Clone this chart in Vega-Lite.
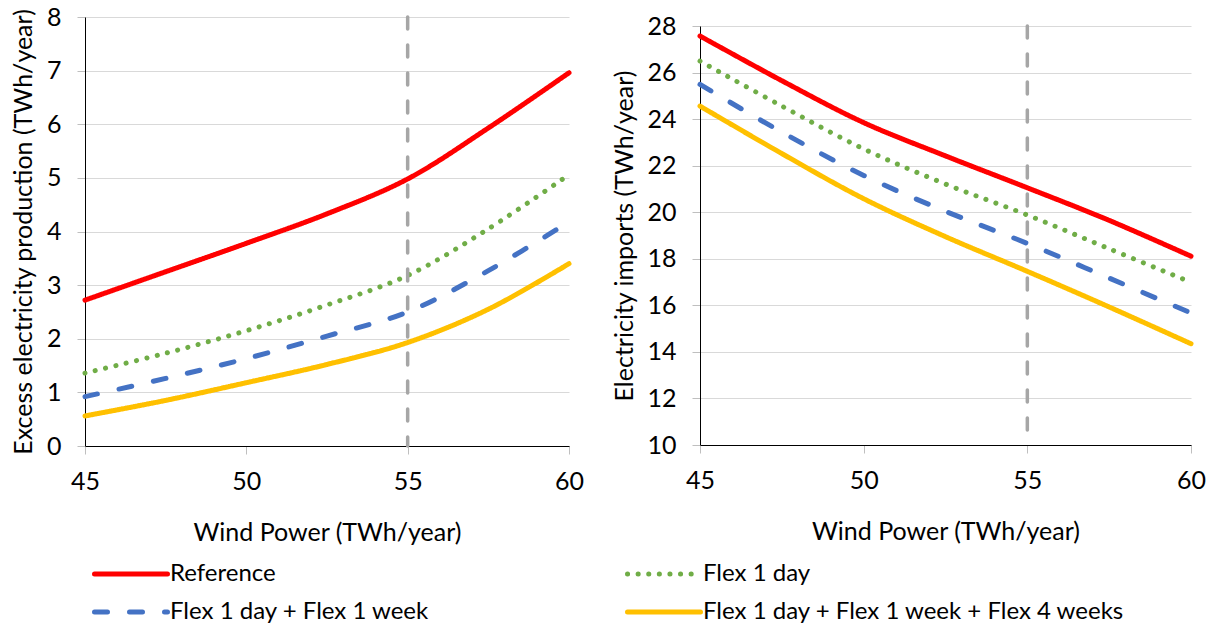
{
  "$schema": "https://vega.github.io/schema/vega-lite/v6.json",
  "padding": {"left": 11, "top": 5, "right": 5, "bottom": 5},
  "background": "white",
  "datasets": {
    "excess": [
      {"wind": 45, "series": "Reference", "value": 2.72},
      {"wind": 47.5, "series": "Reference", "value": 3.25},
      {"wind": 50, "series": "Reference", "value": 3.78},
      {"wind": 52.5, "series": "Reference", "value": 4.33},
      {"wind": 55, "series": "Reference", "value": 4.98},
      {"wind": 57.5, "series": "Reference", "value": 5.93},
      {"wind": 60, "series": "Reference", "value": 6.96},
      {"wind": 45, "series": "Flex 1 day", "value": 1.36},
      {"wind": 47.5, "series": "Flex 1 day", "value": 1.73},
      {"wind": 50, "series": "Flex 1 day", "value": 2.15},
      {"wind": 52.5, "series": "Flex 1 day", "value": 2.63},
      {"wind": 55, "series": "Flex 1 day", "value": 3.18},
      {"wind": 57.5, "series": "Flex 1 day", "value": 4.05},
      {"wind": 60, "series": "Flex 1 day", "value": 5.06},
      {"wind": 45, "series": "Flex 1 day + Flex 1 week", "value": 0.92},
      {"wind": 47.5, "series": "Flex 1 day + Flex 1 week", "value": 1.26},
      {"wind": 50, "series": "Flex 1 day + Flex 1 week", "value": 1.63},
      {"wind": 52.5, "series": "Flex 1 day + Flex 1 week", "value": 2.05},
      {"wind": 55, "series": "Flex 1 day + Flex 1 week", "value": 2.5},
      {"wind": 57.5, "series": "Flex 1 day + Flex 1 week", "value": 3.27},
      {"wind": 60, "series": "Flex 1 day + Flex 1 week", "value": 4.18},
      {"wind": 45, "series": "Flex 1 day + Flex 1 week + Flex 4 weeks", "value": 0.56},
      {"wind": 47.5, "series": "Flex 1 day + Flex 1 week + Flex 4 weeks", "value": 0.85},
      {"wind": 50, "series": "Flex 1 day + Flex 1 week + Flex 4 weeks", "value": 1.18},
      {"wind": 52.5, "series": "Flex 1 day + Flex 1 week + Flex 4 weeks", "value": 1.52},
      {"wind": 55, "series": "Flex 1 day + Flex 1 week + Flex 4 weeks", "value": 1.93},
      {"wind": 57.5, "series": "Flex 1 day + Flex 1 week + Flex 4 weeks", "value": 2.55},
      {"wind": 60, "series": "Flex 1 day + Flex 1 week + Flex 4 weeks", "value": 3.4}
    ],
    "imports": [
      {"wind": 45, "series": "Reference", "value": 27.57},
      {"wind": 47.5, "series": "Reference", "value": 25.65},
      {"wind": 50, "series": "Reference", "value": 23.85},
      {"wind": 52.5, "series": "Reference", "value": 22.42},
      {"wind": 55, "series": "Reference", "value": 21.05},
      {"wind": 57.5, "series": "Reference", "value": 19.65},
      {"wind": 60, "series": "Reference", "value": 18.11},
      {"wind": 45, "series": "Flex 1 day", "value": 26.49},
      {"wind": 47.5, "series": "Flex 1 day", "value": 24.56},
      {"wind": 50, "series": "Flex 1 day", "value": 22.72},
      {"wind": 52.5, "series": "Flex 1 day", "value": 21.21},
      {"wind": 55, "series": "Flex 1 day", "value": 19.88},
      {"wind": 57.5, "series": "Flex 1 day", "value": 18.43},
      {"wind": 60, "series": "Flex 1 day", "value": 16.99},
      {"wind": 45, "series": "Flex 1 day + Flex 1 week", "value": 25.49},
      {"wind": 47.5, "series": "Flex 1 day + Flex 1 week", "value": 23.44},
      {"wind": 50, "series": "Flex 1 day + Flex 1 week", "value": 21.58},
      {"wind": 52.5, "series": "Flex 1 day + Flex 1 week", "value": 20.04},
      {"wind": 55, "series": "Flex 1 day + Flex 1 week", "value": 18.66},
      {"wind": 57.5, "series": "Flex 1 day + Flex 1 week", "value": 17.17},
      {"wind": 60, "series": "Flex 1 day + Flex 1 week", "value": 15.67},
      {"wind": 45, "series": "Flex 1 day + Flex 1 week + Flex 4 weeks", "value": 24.56},
      {"wind": 47.5, "series": "Flex 1 day + Flex 1 week + Flex 4 weeks", "value": 22.52},
      {"wind": 50, "series": "Flex 1 day + Flex 1 week + Flex 4 weeks", "value": 20.58},
      {"wind": 52.5, "series": "Flex 1 day + Flex 1 week + Flex 4 weeks", "value": 18.95},
      {"wind": 55, "series": "Flex 1 day + Flex 1 week + Flex 4 weeks", "value": 17.46},
      {"wind": 57.5, "series": "Flex 1 day + Flex 1 week + Flex 4 weeks", "value": 15.93},
      {"wind": 60, "series": "Flex 1 day + Flex 1 week + Flex 4 weeks", "value": 14.35}
    ],
    "marker": [{"wind": 55}],
    "empty": []
  },
  "spacing": 28,
  "hconcat": [
    {
      "width": 484,
      "height": 429,
      "layer": [
        {
          "data": {"name": "excess"},
          "mark": {"type": "line", "strokeWidth": 5, "strokeCap": "round", "interpolate": "catmull-rom"},
          "encoding": {
            "x": {"field": "wind", "type": "quantitative", "scale": {"domain": [45, 60], "nice": false, "zero": false}, "axis": {"values": [45, 50, 55, 60], "title": "Wind Power (TWh/year)"}},
            "y": {"field": "value", "type": "quantitative", "scale": {"domain": [0, 8], "nice": false}, "axis": {"values": [0, 1, 2, 3, 4, 5, 6, 7, 8], "title": "Excess electricity production (TWh/year)", "titlePadding": 10}},
            "color": {"field": "series", "type": "nominal", "sort": null, "scale": {"domain": ["Reference", "Flex 1 day + Flex 1 week", "Flex 1 day", "Flex 1 day + Flex 1 week + Flex 4 weeks"], "range": ["#FF0000", "#4472C4", "#70AD47", "#FFC000"]}, "legend": {"title": null, "encode": {"symbols": {"update": {"strokeCap": {"value": "round"}}}}}},
            "strokeDash": {"field": "series", "type": "nominal", "sort": null, "scale": {"domain": ["Reference", "Flex 1 day + Flex 1 week", "Flex 1 day", "Flex 1 day + Flex 1 week + Flex 4 weeks"], "range": [[1, 0], [13, 22], [0.1, 10.5], [1, 0]]}, "legend": {"title": null, "encode": {"symbols": {"update": {"strokeCap": {"value": "round"}}}}}}
          }
        },
        {
          "data": {"name": "marker"},
          "mark": {"type": "rule", "color": "#A6A6A6", "strokeWidth": 3.5, "strokeDash": [12, 16], "strokeCap": "round"},
          "encoding": {"x": {"field": "wind", "type": "quantitative"}}
        }
      ]
    },
    {
      "bounds": "flush",
      "spacing": 8,
      "vconcat": [
        {
          "width": 491,
          "height": 1,
          "data": {"name": "empty"},
          "mark": "point"
        },
        {
          "width": 491,
          "height": 419,
          "layer": [
            {
              "data": {"name": "imports"},
              "mark": {"type": "line", "strokeWidth": 5, "strokeCap": "round", "interpolate": "catmull-rom"},
              "encoding": {
                "x": {"field": "wind", "type": "quantitative", "scale": {"domain": [45, 60], "nice": false, "zero": false}, "axis": {"values": [45, 50, 55, 60], "title": "Wind Power (TWh/year)"}},
                "y": {"field": "value", "type": "quantitative", "scale": {"domain": [10, 28], "nice": false, "zero": false}, "axis": {"values": [10, 12, 14, 16, 18, 20, 22, 24, 26, 28], "title": "Electricity imports (TWh/year)", "titlePadding": 9}},
                "color": {"field": "series", "type": "nominal", "sort": null, "scale": {"domain": ["Reference", "Flex 1 day + Flex 1 week", "Flex 1 day", "Flex 1 day + Flex 1 week + Flex 4 weeks"], "range": ["#FF0000", "#4472C4", "#70AD47", "#FFC000"]}, "legend": {"title": null, "encode": {"symbols": {"update": {"strokeCap": {"value": "round"}}}}}},
                "strokeDash": {"field": "series", "type": "nominal", "sort": null, "scale": {"domain": ["Reference", "Flex 1 day + Flex 1 week", "Flex 1 day", "Flex 1 day + Flex 1 week + Flex 4 weeks"], "range": [[1, 0], [13, 22], [0.1, 10.5], [1, 0]]}, "legend": {"title": null, "encode": {"symbols": {"update": {"strokeCap": {"value": "round"}}}}}}
              }
            },
            {
              "data": {"name": "marker"},
              "mark": {"type": "rule", "color": "#A6A6A6", "strokeWidth": 3.5, "strokeDash": [12, 16], "strokeCap": "round"},
              "encoding": {"x": {"field": "wind", "type": "quantitative"}}
            }
          ]
        }
      ]
    }
  ],
  "config": {
    "font": "Lato",
    "view": {"stroke": null},
    "axis": {
      "labelFont": "Lato", "labelFontSize": 25, "labelColor": "#000000",
      "titleFont": "Lato", "titleFontSize": 25, "titleFontWeight": "normal", "titleColor": "#000000",
      "domainColor": "#000000", "domainWidth": 1,
      "tickColor": "#BFBFBF", "tickSize": 8, "tickWidth": 1,
      "gridColor": "#D9D9D9", "gridWidth": 1
    },
    "axisX": {"grid": false, "labelPadding": 15, "titlePadding": 26, "labelFlush": false},
    "axisY": {"grid": true, "labelPadding": 16},
    "legend": {
      "orient": "none", "legendX": 7, "legendY": 545,
      "columns": 2, "columnPadding": 195, "rowPadding": 14, "clipHeight": 24,
      "symbolType": "stroke", "symbolSize": 5329, "symbolStrokeWidth": 5,
      "labelFont": "Lato", "labelFontSize": 24, "labelColor": "#000000", "labelOffset": 0, "labelLimit": 700
    }
  }
}
